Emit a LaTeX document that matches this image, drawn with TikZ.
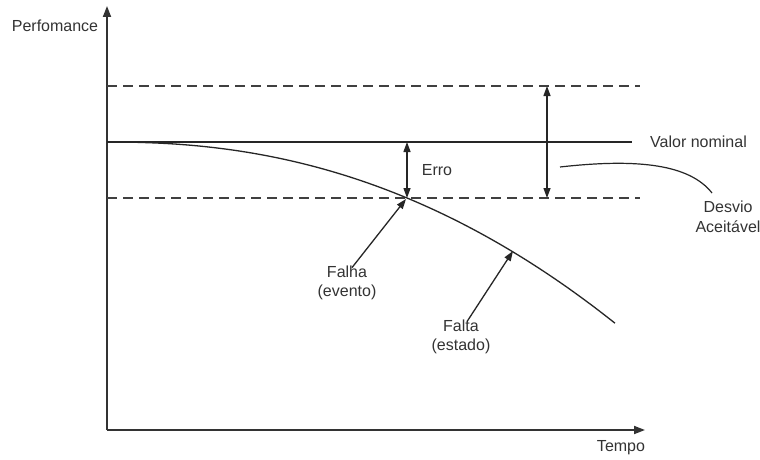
\documentclass[tikz,border=0pt]{standalone}
\usepackage{fontspec}
\setmainfont{Liberation Sans}
\usetikzlibrary{arrows.meta}
\begin{document}
\begin{tikzpicture}[x=1pt,y=-1pt,
  lbl/.style={font=\fontsize{16}{19.5}\selectfont, text=black!80, inner sep=0pt, align=center},
  axis/.style={line width=1.8pt, draw=black!80, -{Triangle[length=11pt,width=8pt]}},
  thin/.style={line width=1.3pt, draw=black!85},
  dashline/.style={line width=1.3pt, draw=black!75, dash pattern=on 10pt off 6pt},
  arr/.style={line width=1.3pt, draw=black!85, -{Triangle[length=10pt,width=7pt]}},
  darr/.style={line width=1.3pt, draw=black!85, {Triangle[length=10pt,width=7pt]}-{Triangle[length=10pt,width=7pt]}}]
\useasboundingbox[fill=white] (0,0) rectangle (760,460);
% axes
\coordinate (o) at (107,430);
\coordinate (ytop) at (107,6);
\coordinate (xend) at (645,430);
\draw[axis] (o) -- (ytop);
\draw[axis] (o) -- (xend);
\node[lbl] (perf) at (55,26) {Perfomance};
\node[lbl] (tempo) at (621,448) {Tempo};
% horizontal lines
\coordinate (tl) at (107,86);  \coordinate (tr) at (640,86);
\coordinate (nl) at (107,142); \coordinate (nr) at (632,142);
\coordinate (bl) at (107,198); \coordinate (br) at (640,198);
\draw[dashline] (tl) -- (tr);
\draw[thin] (nl) -- (nr);
\draw[dashline] (bl) -- (br);
\node[lbl, anchor=west] (nominal) at (650,142) {Valor nominal};
% curve
\draw[thin] (nl) -- plot[domain=1:508, samples=80, smooth] ({107+\x},{142+56*pow(\x/300,2.23)});
\coordinate (pfalha) at (406,199);
\coordinate (pfalta) at (513,251);
% erro
\coordinate (et) at (407,142);
\coordinate (eb) at (407,198);
\draw[darr] (et) -- (eb);
\node[lbl] (erro) at (437,170) {Erro};
% desvio
\coordinate (dt) at (547,86);
\coordinate (db) at (547,198);
\draw[darr] (dt) -- (db);
\node[lbl] (desvio) at (728,217) {Desvio\\Aceitável};
\coordinate (ds) at (560,167);
\coordinate (de) at (712,193);
\draw[line width=1.2pt, draw=black!85] (ds) .. controls (640,158) and (690,165) .. (de);
% falha / falta
\node[lbl] (falha) at (347,283) {Falha\\(evento)};
\node[lbl] (falta) at (461,337) {Falta\\(estado)};
\draw[arr] ([xshift=5pt,yshift=-2pt]falha.north) -- (pfalha);
\draw[arr] ([xshift=6pt,yshift=-2pt]falta.north) -- (pfalta);
\end{tikzpicture}
\end{document}
